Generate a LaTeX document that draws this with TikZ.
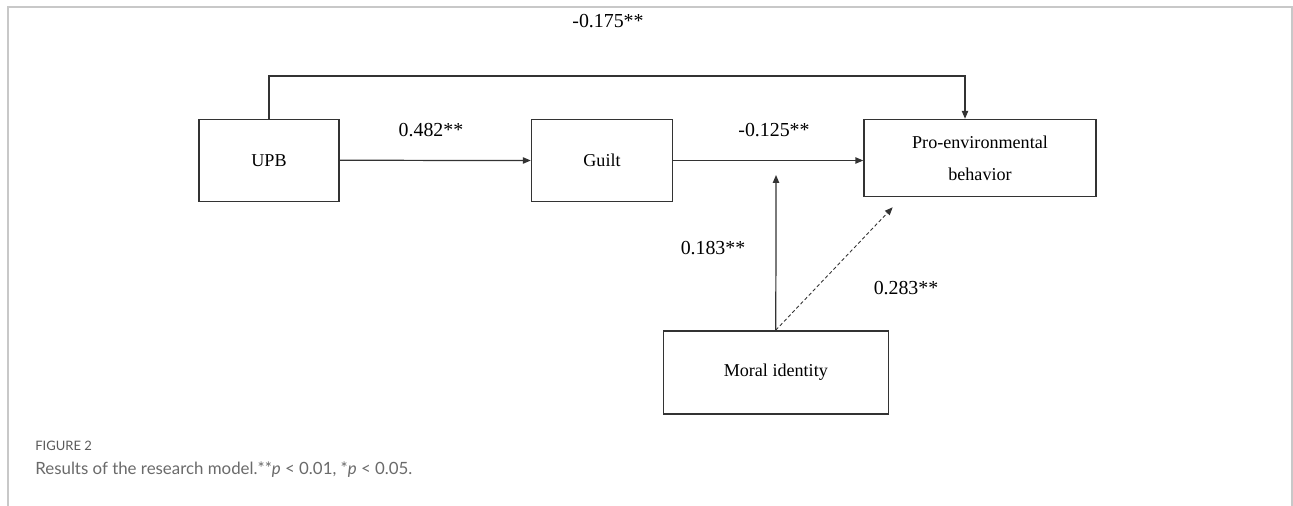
\documentclass[tikz,border=0pt]{standalone}
\usepackage{fontspec}
\setmainfont{Liberation Serif}
\newfontfamily\capfont{Lato}
\usetikzlibrary{arrows.meta, positioning}

\definecolor{framegray}{HTML}{C8C8C8}
\definecolor{capgray}{HTML}{6A6A6A}
\definecolor{linegray}{HTML}{333333}

\begin{document}
\begin{tikzpicture}[x=0.02cm, y=-0.02cm,
        box/.style={rectangle, draw=linegray, line width=0.8pt, align=center, font=\fontsize{10.3}{18}\selectfont},
        coef/.style={font=\fontsize{11.3}{13}\selectfont},
        path/.style={draw=linegray, line width=0.7pt, -{Triangle[length=4.5pt, width=3.6pt]}},
        >=Stealth
    ]
        \useasboundingbox (0,0) rectangle (1293,506);
        % frame of the figure
        \draw[framegray, line width=0.9pt] (8,506) -- (8,7) -- (1292,7) -- (1292,506);

        \node[box, minimum width=140*0.02cm, minimum height=82*0.02cm] (upb) at (269,160.3) {UPB};
        \node[box, minimum width=141*0.02cm, minimum height=82*0.02cm] (guilt) at (602,160.5) {Guilt};
        \node[box, minimum width=232*0.02cm, minimum height=77*0.02cm] (pro) at (980,158) {Pro-environmental\\behavior};
        \node[box, minimum width=225*0.02cm, minimum height=83*0.02cm] (moral) at (775.8,372.3) {Moral identity};

        \coordinate (topR) at (965,76);
        \coordinate (mod) at (776,175);
        \coordinate (dashend) at (892.7,207.3);

        \draw[path] (upb.north) |- (topR) -- (topR |- pro.north);
        \draw[path] (upb.east) -- (guilt.west);
        \draw[path] (guilt.east) -- (guilt.east -| pro.west);
        \draw[path] (moral.north) -- (mod);
        \draw[path, line width=0.5pt, dash pattern=on 2pt off 1.4pt] (moral.north) -- (dashend);

        \node[coef] (c1) at (608,21) {-0.175**};
        \node[coef] (c2) at (431,130) {0.482**};
        \node[coef] (c3) at (774,130) {-0.125**};
        \node[coef] (c4) at (713,248) {0.183**};
        \node[coef] (c5) at (906,288) {0.283**};

        % caption
        \node[anchor=west, inner xsep=0pt, text=capgray!85!black, font=\capfont\fontsize{7.4}{10}\selectfont] (figno) at (35,446) {FIGURE 2};
        \node[anchor=west, inner xsep=0pt, text=capgray, font=\capfont\fontsize{9.6}{12}\selectfont] (caption) at (35,470) {Results of the research model.**\textit{p} < 0.01, *\textit{p} < 0.05.};
    \end{tikzpicture}
\end{document}
